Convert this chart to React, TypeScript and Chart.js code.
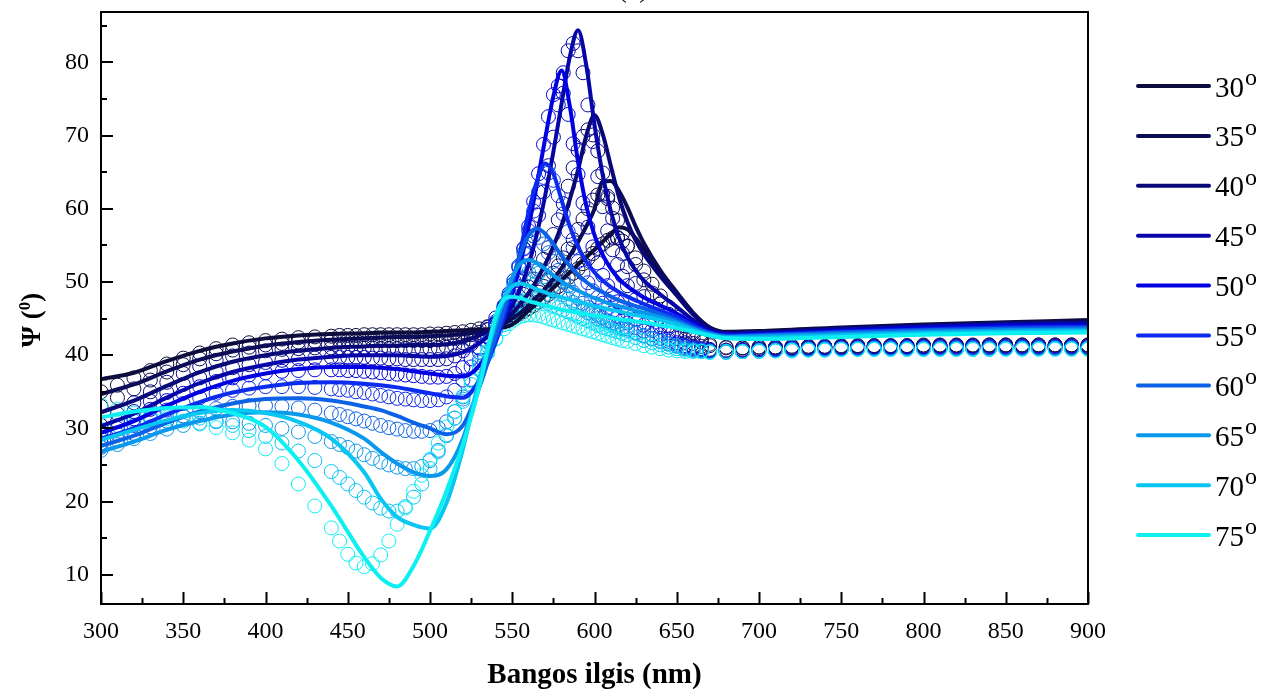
import React, { useEffect, useRef } from "react";
import { Chart, registerables } from "chart.js";
Chart.register(...registerables);

const W = 1272;
const H = 689;
const SERIF = '"Liberation Serif", "Times New Roman", serif';

const angles = ["30", "35", "40", "45", "50", "55", "60", "65", "70", "75"];
const colors = ["#0d0d3d", "#0b0b57", "#080879", "#0606a8", "#0000e0", "#0b2bee", "#0b62e6", "#0a98ec", "#07c6f2", "#0cf0f2"];

// Fitted (model) curves – thick lines
const fitWavelengths = [300, 320, 340, 360, 380, 400, 420, 440, 460, 470, 480, 490, 500, 510, 520, 530, 540, 545, 550, 555, 560, 565, 570, 575, 580, 585, 590, 595, 600, 605, 610, 615, 620, 625, 630, 640, 650, 660, 670, 680, 700, 750, 800, 850, 900];
const fit30 = [36.7, 37.6, 39.2, 40.6, 41.6, 42.3, 42.7, 42.9, 43.0, 43.1, 43.1, 43.1, 43.2, 43.3, 43.4, 43.5, 43.6, 43.8, 44.2, 45.1, 46.1, 47.1, 48.2, 49.2, 50.3, 51.3, 52.4, 53.4, 54.4, 55.5, 56.6, 57.5, 57.2, 56.0, 54.4, 51.0, 48.2, 45.6, 43.8, 43.2, 43.3, 43.8, 44.2, 44.5, 44.8];
const fit35 = [34.7, 36.0, 37.8, 39.4, 40.5, 41.3, 41.8, 42.1, 42.3, 42.4, 42.5, 42.5, 42.6, 42.7, 42.9, 43.2, 43.8, 44.3, 45.0, 45.8, 46.8, 47.9, 49.1, 50.4, 51.9, 53.6, 55.5, 57.6, 60.0, 63.7, 63.8, 62.4, 60.2, 57.6, 55.3, 51.6, 48.6, 45.8, 43.8, 43.1, 43.2, 43.7, 44.1, 44.4, 44.6];
const fit40 = [32.2, 33.8, 35.8, 37.7, 39.1, 40.0, 40.6, 41.0, 41.2, 41.3, 41.3, 41.4, 41.4, 41.5, 41.9, 42.7, 43.9, 44.7, 45.7, 47.0, 48.5, 50.3, 52.4, 54.9, 57.8, 61.3, 65.3, 70.0, 72.8, 70.2, 65.8, 61.5, 58.2, 55.7, 53.8, 50.8, 48.2, 45.6, 43.6, 43.0, 43.1, 43.6, 44.0, 44.3, 44.5];
const fit45 = [30.3, 32.0, 34.2, 36.2, 37.7, 38.7, 39.4, 39.8, 40.0, 40.0, 40.0, 39.9, 39.8, 39.9, 40.4, 41.6, 43.6, 45.0, 46.8, 49.2, 52.4, 56.6, 61.8, 67.8, 74.4, 80.8, 84.4, 79.6, 71.5, 64.6, 59.6, 56.0, 53.4, 51.6, 50.2, 48.3, 46.6, 44.8, 43.4, 42.9, 43.0, 43.5, 43.9, 44.2, 44.3];
const fit50 = [29.4, 31.0, 33.1, 35.0, 36.5, 37.5, 38.1, 38.4, 38.4, 38.3, 38.1, 37.8, 37.5, 37.2, 37.1, 38.6, 42.4, 45.0, 48.4, 52.6, 57.6, 63.4, 69.6, 75.4, 78.9, 74.0, 66.4, 60.4, 56.4, 53.7, 51.8, 50.4, 49.4, 48.6, 47.9, 46.8, 45.7, 44.3, 43.2, 42.8, 42.9, 43.3, 43.7, 44.0, 44.1];
const fit55 = [28.6, 30.0, 31.9, 33.6, 34.9, 35.7, 36.2, 36.3, 36.1, 35.9, 35.6, 35.2, 34.8, 34.4, 34.2, 36.6, 41.8, 45.2, 49.4, 54.4, 59.6, 63.8, 66.2, 64.8, 61.2, 57.6, 54.8, 52.8, 51.3, 50.2, 49.3, 48.6, 48.0, 47.5, 47.0, 46.1, 45.2, 44.1, 43.1, 42.7, 42.8, 43.2, 43.5, 43.8, 43.9];
const fit60 = [27.6, 29.0, 30.8, 32.3, 33.4, 34.0, 34.1, 33.8, 33.0, 32.5, 31.7, 30.8, 30.0, 29.2, 30.4, 35.6, 42.6, 46.2, 50.2, 53.8, 56.4, 57.3, 56.6, 55.2, 53.6, 52.2, 51.0, 50.0, 49.2, 48.6, 48.0, 47.5, 47.1, 46.7, 46.4, 45.6, 44.8, 43.8, 43.0, 42.6, 42.7, 43.1, 43.4, 43.6, 43.7];
const fit65 = [26.8, 28.2, 29.8, 31.0, 31.9, 32.2, 31.9, 30.8, 28.6, 26.8, 25.2, 24.0, 23.5, 24.4, 28.6, 36.2, 44.2, 47.6, 50.6, 52.5, 53.0, 52.6, 51.8, 50.9, 50.1, 49.4, 48.8, 48.3, 47.8, 47.4, 47.0, 46.7, 46.4, 46.1, 45.8, 45.2, 44.5, 43.6, 42.9, 42.5, 42.6, 42.9, 43.2, 43.4, 43.5];
const fit70 = [28.4, 29.8, 31.1, 32.1, 32.5, 32.1, 30.9, 28.6, 24.0, 20.4, 17.9, 16.8, 16.3, 19.8, 27.2, 36.8, 44.8, 47.8, 49.4, 49.8, 49.5, 49.0, 48.6, 48.2, 47.9, 47.6, 47.3, 47.0, 46.7, 46.5, 46.2, 46.0, 45.7, 45.5, 45.3, 44.8, 44.2, 43.4, 42.7, 42.4, 42.4, 42.7, 43.0, 43.2, 43.3];
const fit75 = [31.5, 32.3, 32.8, 32.9, 32.1, 30.2, 25.6, 19.4, 12.4, 9.6, 8.4, 11.2, 16.0, 21.4, 27.8, 35.7, 45.4, 47.6, 48.0, 47.8, 47.4, 47.1, 46.8, 46.5, 46.2, 46.0, 45.8, 45.6, 45.4, 45.3, 45.1, 44.9, 44.8, 44.6, 44.5, 44.1, 43.7, 43.2, 42.7, 42.3, 42.2, 42.5, 42.8, 43.0, 43.1];
const fits = [fit30, fit35, fit40, fit45, fit50, fit55, fit60, fit65, fit70, fit75];

// Measured values – open circles
const measWavelengths = [
  300, 310, 320, 330, 340, 350, 360, 370, 380, 390, 400, 410, 420, 430, 440,
  445, 450, 455, 460, 465, 470, 475, 480, 485, 490, 495, 500, 505, 510, 515, 520, 525, 530, 535, 540, 545,
  548, 551, 554, 557, 560, 563, 566, 569, 572, 575, 578, 581, 584, 587, 590, 593, 596, 599, 602, 605, 608, 611, 614, 617, 620,
  625, 630, 635, 640, 645, 650, 655, 660, 665,
  670, 680, 690, 700, 710, 720, 730, 740, 750, 760, 770, 780, 790, 800, 810, 820, 830, 840, 850, 860, 870, 880, 890, 900,
];
const meas30 = [
  35.0, 35.9, 36.9, 37.9, 38.8, 39.6, 40.3, 40.9, 41.4, 41.7, 42.0, 42.2, 42.4, 42.5, 42.6,
  42.7, 42.7, 42.7, 42.8, 42.8, 42.8, 42.8, 42.8, 42.8, 42.8, 42.8, 42.9, 42.9, 43.0, 43.1, 43.2, 43.4, 43.6, 43.9, 44.2, 44.6,
  44.9, 45.2, 45.6, 46.0, 46.4, 46.8, 47.3, 47.8, 48.3, 48.8, 49.4, 50.0, 50.6, 51.2, 51.8, 52.5, 53.2, 53.9, 54.6, 55.2, 55.7, 56.0, 56.0, 55.6, 54.9,
  53.3, 51.5, 49.7, 48.1, 46.6, 45.2, 44.0, 43.0, 42.3,
  41.5, 41.1, 41.0, 41.1, 41.1, 41.2, 41.2, 41.2, 41.3, 41.3, 41.3, 41.3, 41.3, 41.4, 41.4, 41.4, 41.4, 41.4, 41.4, 41.4, 41.4, 41.4, 41.4, 41.4,
];
const meas35 = [
  33.0, 34.2, 35.4, 36.6, 37.7, 38.7, 39.5, 40.2, 40.7, 41.1, 41.4, 41.6, 41.8, 41.9, 42.0,
  42.0, 42.0, 42.0, 42.0, 42.0, 42.0, 42.0, 42.0, 42.0, 42.0, 42.0, 42.0, 42.1, 42.2, 42.3, 42.5, 42.8, 43.1, 43.5, 44.0, 44.6,
  45.0, 45.5, 46.0, 46.6, 47.2, 47.9, 48.6, 49.4, 50.3, 51.2, 52.2, 53.3, 54.5, 55.8, 57.2, 58.6, 60.0, 61.2, 61.9, 62.0, 61.4, 60.1, 58.4, 56.6, 54.9,
  52.4, 50.3, 48.5, 47.0, 45.6, 44.4, 43.3, 42.4, 41.8,
  41.3, 41.0, 41.0, 41.1, 41.1, 41.2, 41.2, 41.2, 41.2, 41.3, 41.3, 41.3, 41.3, 41.3, 41.3, 41.3, 41.3, 41.4, 41.4, 41.4, 41.4, 41.4, 41.4, 41.4,
];
const meas40 = [
  30.4, 32.0, 33.5, 35.0, 36.3, 37.5, 38.5, 39.3, 39.9, 40.3, 40.6, 40.8, 40.9, 41.0, 41.0,
  41.0, 41.0, 41.0, 41.0, 41.0, 40.9, 40.9, 40.9, 40.9, 40.9, 40.9, 40.9, 41.0, 41.1, 41.3, 41.7, 42.2, 42.8, 43.5, 44.3, 45.2,
  45.9, 46.6, 47.4, 48.3, 49.3, 50.4, 51.7, 53.1, 54.7, 56.5, 58.5, 60.7, 63.1, 65.6, 68.0, 69.9, 70.8, 70.1, 67.9, 64.9, 61.7, 58.7, 56.1, 53.9, 52.1,
  49.8, 48.0, 46.5, 45.2, 44.0, 43.0, 42.2, 41.6, 41.2,
  40.8, 40.7, 40.8, 40.9, 41.0, 41.0, 41.1, 41.1, 41.1, 41.2, 41.2, 41.2, 41.2, 41.2, 41.3, 41.3, 41.3, 41.3, 41.3, 41.3, 41.3, 41.3, 41.3, 41.3,
];
const meas45 = [
  29.5, 30.9, 32.3, 33.7, 34.9, 36.0, 36.9, 37.7, 38.3, 38.7, 39.0, 39.3, 39.5, 39.6, 39.7,
  39.7, 39.7, 39.7, 39.7, 39.6, 39.6, 39.5, 39.5, 39.4, 39.4, 39.4, 39.4, 39.4, 39.5, 39.9, 40.6, 41.5, 42.6, 43.8, 45.1, 46.6,
  47.6, 48.8, 50.2, 51.9, 53.9, 56.3, 59.1, 62.3, 65.9, 69.8, 74.2, 78.6, 81.6, 82.6, 81.6, 78.6, 74.2, 69.2, 64.4, 60.3, 57.0, 54.4, 52.4, 50.8, 49.5,
  47.6, 46.1, 44.9, 43.9, 43.0, 42.3, 41.7, 41.2, 40.9,
  40.7, 40.6, 40.7, 40.8, 40.9, 41.0, 41.0, 41.1, 41.1, 41.1, 41.1, 41.2, 41.2, 41.2, 41.2, 41.2, 41.2, 41.2, 41.2, 41.2, 41.2, 41.2, 41.2, 41.2,
];
const meas50 = [
  28.6, 30.0, 31.3, 32.6, 33.8, 34.8, 35.7, 36.4, 36.9, 37.3, 37.6, 37.8, 37.9, 38.0, 38.0,
  38.0, 37.9, 37.9, 37.8, 37.7, 37.6, 37.5, 37.4, 37.3, 37.2, 37.1, 37.0, 37.0, 37.1, 37.5, 38.3, 39.5, 41.0, 42.6, 44.4, 46.5,
  48.0, 49.8, 52.0, 54.6, 57.6, 61.0, 64.8, 68.8, 72.6, 75.6, 76.8, 75.8, 72.9, 68.9, 64.7, 60.8, 57.5, 54.8, 52.6, 50.9, 49.5, 48.3, 47.3, 46.5, 45.8,
  44.9, 44.1, 43.4, 42.8, 42.2, 41.7, 41.3, 41.0, 40.8,
  40.6, 40.5, 40.6, 40.7, 40.8, 40.9, 40.9, 41.0, 41.0, 41.0, 41.1, 41.1, 41.1, 41.1, 41.1, 41.1, 41.1, 41.1, 41.1, 41.1, 41.1, 41.1, 41.1, 41.1,
];
const meas55 = [
  28.0, 29.2, 30.4, 31.5, 32.5, 33.4, 34.2, 34.8, 35.2, 35.5, 35.7, 35.7, 35.7, 35.6, 35.4,
  35.3, 35.2, 35.0, 34.9, 34.7, 34.5, 34.3, 34.1, 34.0, 33.9, 33.8, 33.8, 33.9, 34.3, 35.2, 36.6, 38.4, 40.4, 42.5, 44.6, 46.8,
  48.4, 50.2, 52.2, 54.5, 57.0, 59.7, 62.3, 64.3, 64.9, 63.9, 61.8, 59.3, 56.9, 54.7, 52.8, 51.2, 49.9, 48.8, 47.9, 47.1, 46.4, 45.8, 45.3, 44.8, 44.4,
  43.8, 43.3, 42.8, 42.3, 41.9, 41.5, 41.2, 40.9, 40.8,
  40.6, 40.5, 40.6, 40.7, 40.8, 40.8, 40.9, 40.9, 41.0, 41.0, 41.0, 41.0, 41.0, 41.0, 41.0, 41.0, 41.0, 41.0, 41.0, 41.1, 41.1, 41.1, 41.1, 41.1,
];
const meas60 = [
  27.4, 28.4, 29.3, 30.2, 31.0, 31.7, 32.3, 32.7, 33.0, 33.1, 33.1, 33.0, 32.8, 32.5, 32.1,
  31.9, 31.6, 31.3, 31.0, 30.7, 30.4, 30.1, 29.9, 29.7, 29.6, 29.6, 29.7, 30.1, 30.9, 32.3, 34.3, 36.7, 39.3, 41.8, 44.1, 46.3,
  48.2, 50.2, 52.2, 54.0, 55.6, 56.3, 56.1, 55.2, 54.0, 52.8, 51.6, 50.5, 49.5, 48.6, 47.8, 47.1, 46.5, 46.0, 45.5, 45.1, 44.7, 44.4, 44.1, 43.8, 43.6,
  43.1, 42.7, 42.3, 41.9, 41.6, 41.3, 41.0, 40.8, 40.6,
  40.5, 40.5, 40.5, 40.6, 40.7, 40.8, 40.8, 40.9, 40.9, 40.9, 41.0, 41.0, 41.0, 41.0, 41.0, 41.0, 41.0, 41.0, 41.0, 41.0, 41.0, 41.0, 41.0, 41.0,
];
const meas65 = [
  27.0, 27.8, 28.6, 29.3, 29.9, 30.4, 30.7, 30.9, 30.9, 30.7, 30.4, 30.0, 29.5, 28.9, 28.2,
  27.8, 27.4, 26.9, 26.4, 25.9, 25.4, 25.0, 24.7, 24.5, 24.5, 24.8, 25.6, 27.0, 29.0, 31.4, 34.0, 36.6, 39.0, 41.3, 43.4, 45.4,
  46.6, 47.8, 49.3, 50.6, 51.3, 51.5, 51.2, 50.7, 50.1, 49.5, 48.9, 48.3, 47.7, 47.2, 46.7, 46.2, 45.8, 45.4, 45.0, 44.7, 44.4, 44.1, 43.8, 43.6, 43.4,
  43.0, 42.6, 42.2, 41.9, 41.5, 41.2, 40.9, 40.7, 40.6,
  40.5, 40.4, 40.5, 40.6, 40.6, 40.7, 40.8, 40.8, 40.8, 40.9, 40.9, 40.9, 40.9, 40.9, 40.9, 40.9, 40.9, 40.9, 40.9, 40.9, 40.9, 40.9, 40.9, 40.9,
];
const meas70 = [
  29.8, 30.4, 31.0, 31.4, 31.6, 31.6, 31.4, 31.0, 30.4, 29.7, 28.9, 28.0, 26.9, 25.6, 24.1,
  23.3, 22.4, 21.5, 20.6, 19.8, 19.1, 18.7, 18.7, 19.3, 20.6, 22.4, 24.5, 26.8, 29.1, 31.4, 33.7, 36.0, 38.2, 40.3, 42.3, 44.2,
  45.2, 46.1, 46.8, 47.3, 47.6, 47.7, 47.6, 47.4, 47.1, 46.8, 46.5, 46.2, 45.9, 45.6, 45.3, 45.0, 44.7, 44.4, 44.1, 43.8, 43.6, 43.4, 43.2, 43.0, 42.8,
  42.4, 42.0, 41.7, 41.4, 41.1, 40.9, 40.7, 40.6, 40.5,
  40.4, 40.4, 40.5, 40.5, 40.6, 40.6, 40.7, 40.7, 40.8, 40.8, 40.8, 40.8, 40.8, 40.8, 40.8, 40.8, 40.8, 40.8, 40.9, 40.9, 40.9, 40.9, 40.9, 40.9,
];
const meas75 = [
  33.2, 32.6, 32.1, 31.7, 31.3, 31.0, 30.6, 30.1, 29.4, 28.4, 27.2, 25.2, 22.4, 19.4, 16.4,
  14.6, 12.8, 11.6, 11.1, 11.5, 12.7, 14.6, 16.9, 19.1, 21.4, 23.6, 25.8, 28.0, 30.2, 32.3, 34.4, 36.5, 38.6, 40.5, 42.2, 43.6,
  44.3, 44.8, 45.2, 45.4, 45.5, 45.5, 45.4, 45.2, 45.0, 44.8, 44.6, 44.4, 44.2, 44.0, 43.8, 43.6, 43.4, 43.2, 43.0, 42.8, 42.6, 42.4, 42.2, 42.0, 41.9,
  41.6, 41.3, 41.1, 40.9, 40.7, 40.6, 40.5, 40.5, 40.5,
  40.4, 40.5, 40.5, 40.6, 40.6, 40.7, 40.7, 40.7, 40.8, 40.8, 40.8, 40.8, 40.8, 40.8, 40.8, 40.8, 40.8, 40.8, 40.8, 40.8, 40.8, 40.8, 40.8, 40.8,
];
const measured = [meas30, meas35, meas40, meas45, meas50, meas55, meas60, meas65, meas70, meas75];

const xTickValues = [300, 350, 400, 450, 500, 550, 600, 650, 700, 750, 800, 850, 900];
const xMinorTicks = [325, 375, 425, 475, 525, 575, 625, 675, 725, 775, 825, 875];
const yTickValues = [10, 20, 30, 40, 50, 60, 70, 80];
const yMinorTicks = [15, 25, 35, 45, 55, 65, 75, 85];

const xTitle = "Bangos ilgis (nm)";
const panelTitle = "(a)";

const overlay = {
  id: "overlay",
  afterDatasetsDraw(chart: any) {
    const { ctx, chartArea: a, scales } = chart;
    const xs = scales.x;
    const ys = scales.y;
    ctx.save();
    ctx.strokeStyle = "#000";
    ctx.lineWidth = 2;
    ctx.beginPath();
    xTickValues.forEach((v) => {
      const p = Math.round(xs.getPixelForValue(v)) + 0.5;
      ctx.moveTo(p, a.bottom);
      ctx.lineTo(p, a.bottom - 12);
    });
    xMinorTicks.forEach((v) => {
      const p = Math.round(xs.getPixelForValue(v)) + 0.5;
      ctx.moveTo(p, a.bottom);
      ctx.lineTo(p, a.bottom - 6);
    });
    yTickValues.forEach((v) => {
      const p = Math.round(ys.getPixelForValue(v));
      ctx.moveTo(a.left, p);
      ctx.lineTo(a.left + 12, p);
    });
    yMinorTicks.forEach((v) => {
      const p = Math.round(ys.getPixelForValue(v));
      ctx.moveTo(a.left, p);
      ctx.lineTo(a.left + 6, p);
    });
    ctx.stroke();
    ctx.lineWidth = 2;
    ctx.strokeRect(a.left, a.top, a.right - a.left, a.bottom - a.top);
    ctx.restore();
  },
  afterDraw(chart: any) {
    const { ctx, chartArea: a } = chart;
    ctx.save();
    ctx.fillStyle = "#000";
    // panel title, mostly cut off at the top edge
    ctx.font = `28px ${SERIF}`;
    ctx.textAlign = "center";
    ctx.textBaseline = "alphabetic";
    ctx.fillText(panelTitle, 633, -3);
    // x title
    ctx.font = `bold 29px ${SERIF}`;
    ctx.fillText(xTitle, (a.left + a.right) / 2, 683);
    // y title: Ψ (⁰)
    ctx.save();
    ctx.translate(31, 320);
    ctx.rotate(-Math.PI / 2);
    ctx.textAlign = "left";
    const big = `bold 27px ${SERIF}`;
    const small = `bold 17px ${SERIF}`;
    ctx.font = big;
    const w1 = ctx.measureText("Ψ (").width;
    const w3 = ctx.measureText(")").width;
    ctx.font = small;
    const w2 = ctx.measureText("0").width;
    const x0 = -(w1 + w2 + w3) / 2;
    ctx.font = big;
    ctx.fillText("Ψ (", x0, 9);
    ctx.font = small;
    ctx.fillText("0", x0 + w1, -1);
    ctx.font = big;
    ctx.fillText(")", x0 + w1 + w2, 9);
    ctx.restore();
    // legend
    ctx.textAlign = "left";
    angles.forEach((ang, i) => {
      const y = 86 + i * 49.9;
      ctx.strokeStyle = colors[i];
      ctx.lineWidth = 4;
      ctx.lineCap = "round";
      ctx.beginPath();
      ctx.moveTo(1138, y);
      ctx.lineTo(1209, y);
      ctx.stroke();
      ctx.fillStyle = "#000";
      ctx.font = `29px ${SERIF}`;
      ctx.fillText(ang, 1215, y + 10.5);
      const tw = ctx.measureText(ang).width;
      ctx.font = `24px ${SERIF}`;
      ctx.fillText("o", 1215 + tw + 1, y - 1);
    });
    ctx.restore();
  },
};

export default function App() {
  const ref = useRef<HTMLCanvasElement>(null);
  useEffect(() => {
    const canvas = ref.current;
    if (!canvas) return;
    const datasets: any[] = [];
    measured.forEach((vals, k) => {
      datasets.push({
        label: `meas ${angles[k]}`,
        data: measWavelengths.map((x, i) => ({ x, y: vals[i] })),
        showLine: false,
        pointStyle: "circle",
        pointRadius: 7,
        pointHoverRadius: 7,
        pointBorderWidth: 1,
        pointBorderColor: colors[k],
        pointBackgroundColor: "rgba(0,0,0,0)",
        borderColor: colors[k],
        backgroundColor: "rgba(0,0,0,0)",
        order: 30 - k,
        clip: 0,
      });
    });
    fits.forEach((vals, k) => {
      datasets.push({
        label: `${angles[k]}°`,
        data: fitWavelengths.map((x, i) => ({ x, y: vals[i] })),
        showLine: true,
        pointRadius: 0,
        pointHoverRadius: 0,
        borderWidth: 4,
        borderColor: colors[k],
        backgroundColor: colors[k],
        cubicInterpolationMode: "monotone",
        borderCapStyle: "round",
        borderJoinStyle: "round",
        fill: false,
        order: 10 - k,
        clip: 0,
      });
    });
    const chart = new Chart(canvas, {
      type: "scatter",
      data: { datasets },
      options: {
        responsive: false,
        maintainAspectRatio: false,
        animation: false,
        devicePixelRatio: 1,
        events: [],
        layout: { padding: { top: 12, right: 184, bottom: 0, left: 0 } },
        plugins: { legend: { display: false }, tooltip: { enabled: false }, title: { display: false } },
        scales: {
          x: {
            type: "linear",
            min: 300,
            max: 900,
            grid: { display: false, drawTicks: false },
            border: { display: false },
            ticks: { padding: 13, color: "#000", font: { family: SERIF, size: 24 }, maxRotation: 0, autoSkip: false },
            afterBuildTicks: (s: any) => {
              s.ticks = xTickValues.map((value) => ({ value }));
            },
            afterFit: (s: any) => {
              s.height = 85;
              s.paddingLeft = 0;
              s.paddingRight = 0;
            },
          },
          y: {
            type: "linear",
            min: 6,
            max: 86.9,
            grid: { display: false, drawTicks: false },
            border: { display: false },
            ticks: { padding: 12, color: "#000", font: { family: SERIF, size: 24 } },
            afterBuildTicks: (s: any) => {
              s.ticks = yTickValues.map((value) => ({ value }));
            },
            afterFit: (s: any) => {
              s.width = 101;
              s.paddingTop = 0;
              s.paddingBottom = 0;
            },
          },
        },
      } as any,
      plugins: [overlay],
    });
    return () => chart.destroy();
  }, []);
  return (
    <div style={{ position: "fixed", left: 0, top: 0, width: W, height: H, background: "#fff" }}>
      <canvas ref={ref} width={W} height={H} style={{ display: "block", width: W, height: H }} />
    </div>
  );
}
